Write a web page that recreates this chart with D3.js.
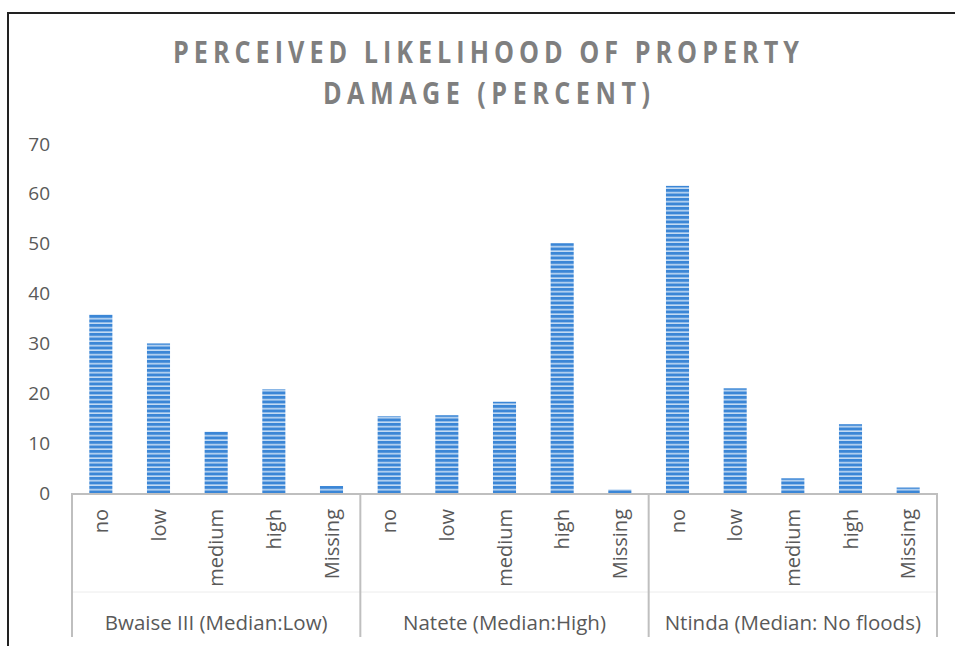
<!DOCTYPE html>
<html>
<head>
<meta charset="utf-8">
<script src="https://cdn.jsdelivr.net/npm/d3@7"></script>
<style>
  body { margin: 0; background: #fff; }
  text { font-family: "Open Sans", sans-serif; }
</style>
</head>
<body>
<script>
// chart data
var groups = ["Bwaise III (Median:Low)", "Natete (Median:High)", "Ntinda (Median: No floods)"];
var levels = ["no", "low", "medium", "high", "Missing"];
var bwaise = [35.8, 30.0, 12.3, 20.8, 1.4];
var natete = [15.4, 15.6, 18.3, 50.1, 0.7];
var ntinda = [61.6, 21.0, 2.95, 13.8, 1.1];
var yTicks = [0, 10, 20, 30, 40, 50, 60, 70];
var titleLines = ["PERCEIVED LIKELIHOOD OF PROPERTY", "DAMAGE (PERCENT)"];

function main() {
    var series = [bwaise, natete, ntinda];
    var data = [];
    groups.forEach(function (g, gi) {
        levels.forEach(function (l, li) {
            data.push({ group: g, level: l, key: g + "|" + l, value: series[gi][li] });
        });
    });

    var W = 955, H = 646;
    var left = 72, right = 937, top = 144, bottom = 493;

    var svg = d3.select("body")
      .append("svg")
      .attr("width", W)
      .attr("height", H);

    var defs = svg.append("defs");
    var pat = defs.append("pattern")
      .attr("id", "stripes")
      .attr("patternUnits", "userSpaceOnUse")
      .attr("width", 8)
      .attr("height", 4.5);
    pat.append("rect").attr("width", 8).attr("height", 4.5).attr("fill", "#3b86d6");
    pat.append("rect").attr("y", 3).attr("width", 8).attr("height", 1.4).attr("fill", "#d4e5f7");

    // outer frame (top and left only visible)
    svg.append("line").attr("x1", 8).attr("x2", W).attr("y1", 13).attr("y2", 13)
      .attr("stroke", "#222").attr("stroke-width", 2);
    svg.append("line").attr("x1", 8).attr("x2", 8).attr("y1", 12).attr("y2", H)
      .attr("stroke", "#222").attr("stroke-width", 2);

    // title: narrow glyphs with letter spacing
    var sx = 0.84;
    var titleStart = [173, 323];
    var titleWidths = [626, 327];
    svg.selectAll(".title")
      .data(titleLines)
      .enter()
      .append("text")
      .attr("class", "title")
      .attr("transform", function (d, i) {
          return "translate(" + titleStart[i] + "," + (63 + i * 41) + ") scale(" + sx + ",1)";
      })
      .attr("textLength", function (d, i) { return titleWidths[i] / sx; })
      .attr("lengthAdjust", "spacing")
      .attr("font-size", 30)
      .attr("font-weight", 700)
      .attr("fill", "#7f7f7f")
      .text(function (d) { return d; });

    var x = d3.scaleBand()
      .domain(data.map(function (d) { return d.key; }))
      .range([left, right])
      .paddingInner(0.6)
      .paddingOuter(0.3);

    var xg = d3.scaleBand()
      .domain(groups)
      .range([left, right]);

    var y = d3.scaleLinear()
      .domain([0, 70])
      .range([bottom, top]);

    // y axis labels
    var yAxis = svg.append("g")
      .attr("transform", "translate(" + left + ",0)")
      .call(d3.axisLeft(y).tickValues(yTicks).tickSize(0).tickPadding(22));
    yAxis.select(".domain").remove();
    yAxis.selectAll("text")
      .attr("font-family", "Open Sans")
      .attr("font-size", 19)
      .attr("fill", "#595959");

    // bars
    svg.selectAll("rect.bar")
      .data(data)
      .enter()
      .append("rect")
      .attr("class", "bar")
      .attr("x", function (d) { return x(d.key); })
      .attr("width", x.bandwidth())
      .attr("y", function (d) { return y(d.value); })
      .attr("height", function (d) { return bottom - y(d.value); })
      .attr("fill", "url(#stripes)");

    // axis line and group separators
    svg.append("line")
      .attr("x1", left).attr("x2", right + 1)
      .attr("y1", bottom + 1).attr("y2", bottom + 1)
      .attr("stroke", "#bfbfbf").attr("stroke-width", 2);
    svg.append("line")
      .attr("x1", left).attr("x2", right)
      .attr("y1", 592).attr("y2", 592)
      .attr("stroke", "#ececec").attr("stroke-width", 1);
    var seps = groups.map(function (g) { return xg(g); }).concat([right]);
    svg.selectAll("line.sep")
      .data(seps)
      .enter()
      .append("line")
      .attr("class", "sep")
      .attr("x1", function (d) { return d; })
      .attr("x2", function (d) { return d; })
      .attr("y1", bottom)
      .attr("y2", 637)
      .attr("stroke", "#bfbfbf")
      .attr("stroke-width", 2);

    // category labels (rotated)
    svg.selectAll("text.cat")
      .data(data)
      .enter()
      .append("text")
      .attr("class", "cat")
      .attr("transform", function (d) {
          return "translate(" + (x(d.key) + x.bandwidth() / 2 + 7) + ",509) rotate(-90)";
      })
      .attr("text-anchor", "end")
      .attr("font-size", 20)
      .attr("fill", "#595959")
      .text(function (d) { return d.level; });

    // group labels
    svg.selectAll("text.grp")
      .data(groups)
      .enter()
      .append("text")
      .attr("class", "grp")
      .attr("x", function (d) { return xg(d) + xg.bandwidth() / 2; })
      .attr("y", 630)
      .attr("text-anchor", "middle")
      .attr("font-size", 20.5)
      .attr("fill", "#595959")
      .text(function (d) { return d; });
}

main();
</script>
</body>
</html>
